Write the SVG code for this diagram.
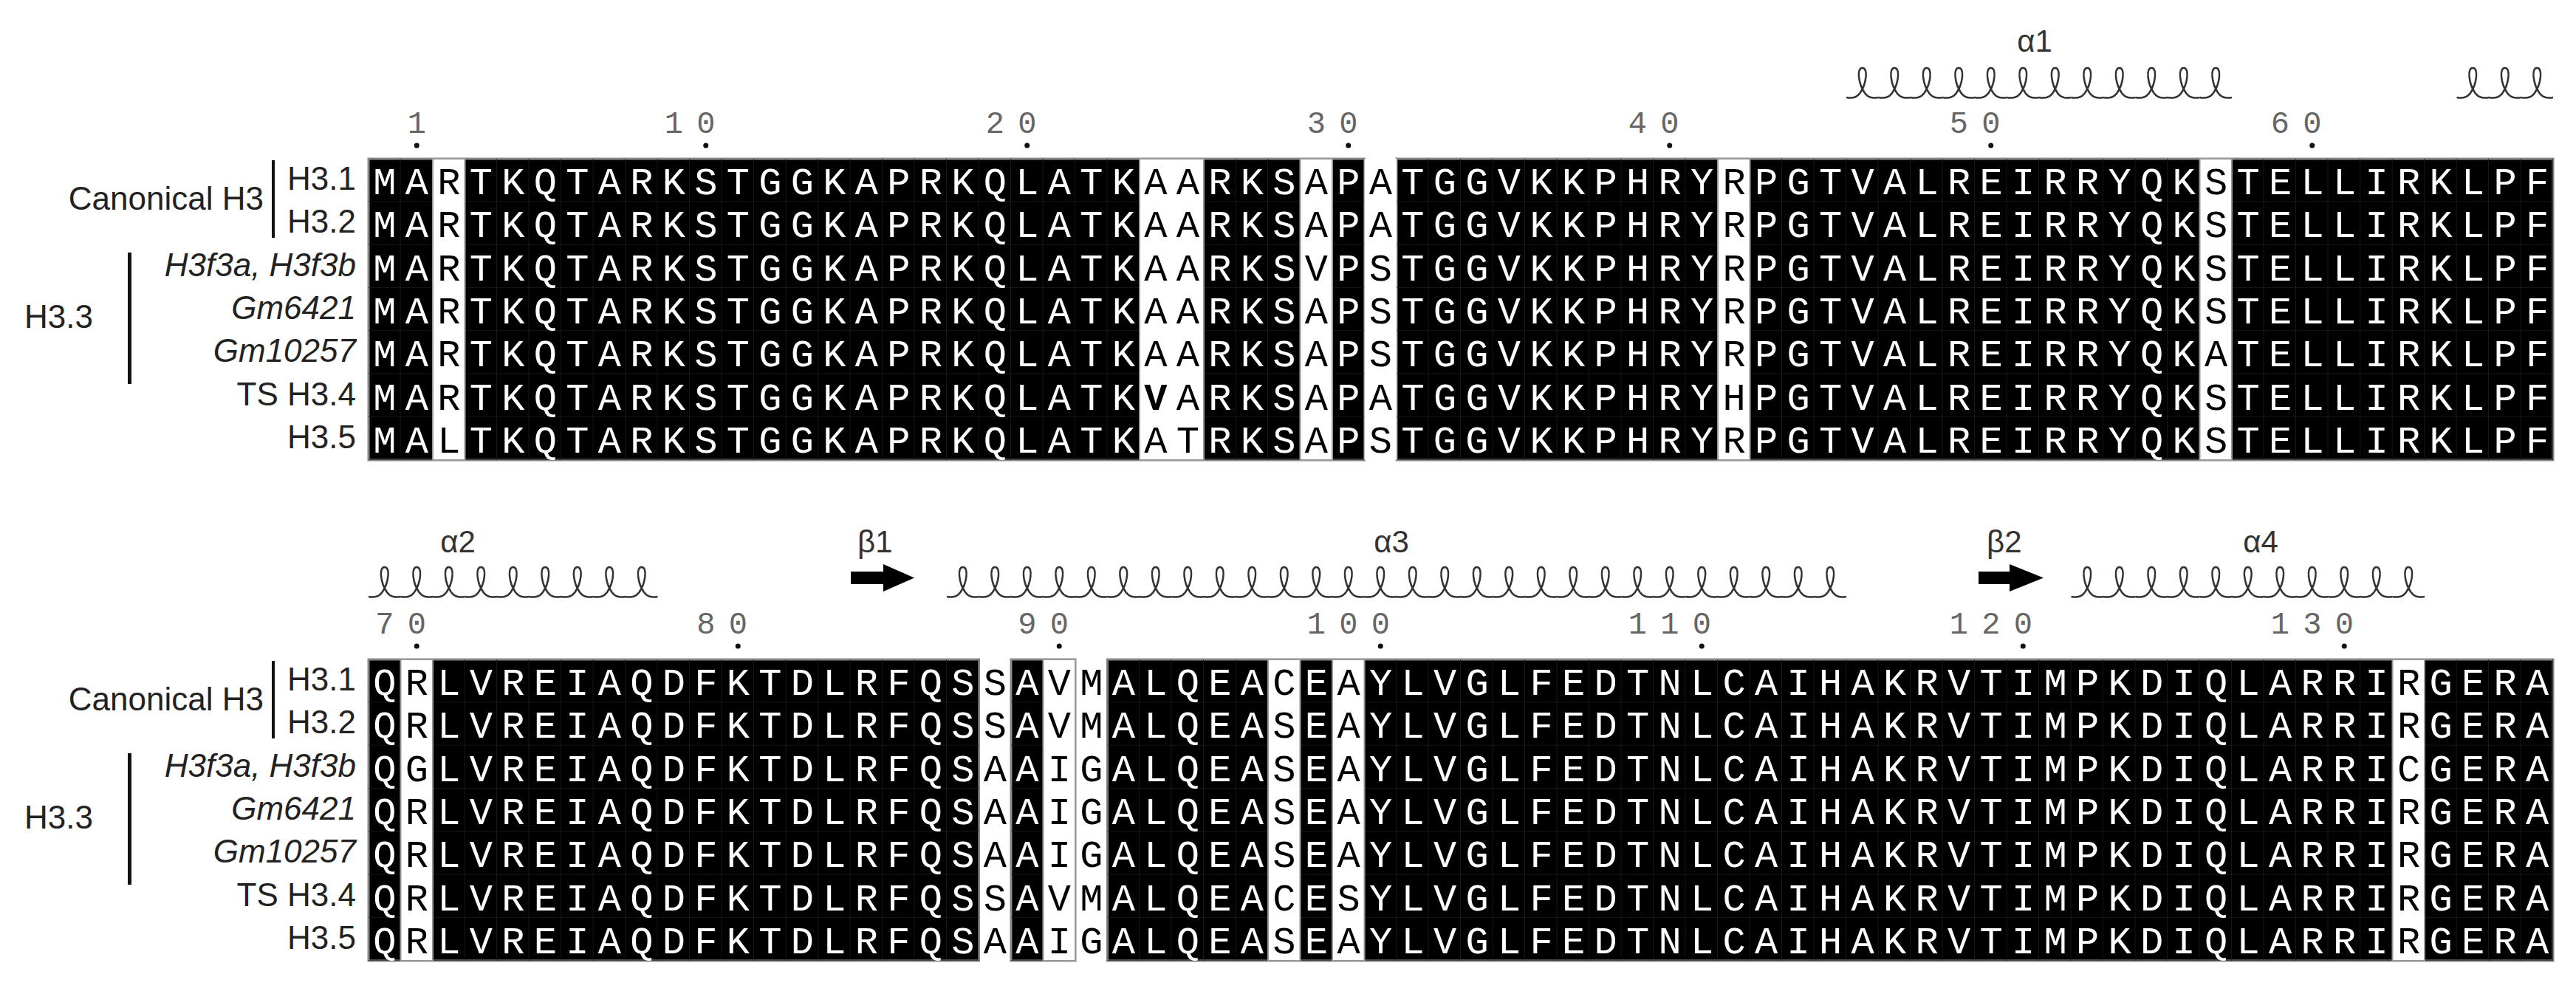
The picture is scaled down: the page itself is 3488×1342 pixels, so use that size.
<svg xmlns="http://www.w3.org/2000/svg" xmlns:xlink="http://www.w3.org/1999/xlink" width="3488" height="1342" viewBox="0 0 3488 1342">
<style>
.res{font-family:"Liberation Mono","Courier New",monospace;font-size:52px;fill:#fff;letter-spacing:12.3px}
.w{fill:#000}
.b{font-weight:bold}
.num{font-family:"Liberation Mono","Courier New",monospace;font-size:42px;fill:#666;letter-spacing:18.3px}
.lab{font-family:"Liberation Sans",Arial,sans-serif;font-size:44px;fill:#222}
.r{text-anchor:end}
.it{font-style:italic}
.ss{font-family:"Liberation Sans",Arial,sans-serif;font-size:42px;fill:#333}
.frame{fill:#000;stroke:#888;stroke-width:3}
.wc{fill:#fff;stroke:#999;stroke-width:2}
.coil{fill:none;stroke:#333;stroke-width:2.5}
.dot{fill:#111}
</style>
<defs>
<path id="coil" class="coil" d="M0,0 C9,1.5 14,0 18.5,-6 C27,-18 30,-40 21.75,-40 C13.5,-40 16.5,-18 25,-6 C29.5,0 34.5,1.5 43.5,0"/>
<pattern id="g1" patternUnits="userSpaceOnUse" x="499" y="215" width="43.5" height="58.3"><path d="M43.5 0V58.3M0 58.3H43.5" stroke="#1e1e1e" stroke-width="1.5" fill="none"/></pattern>
<pattern id="g2" patternUnits="userSpaceOnUse" x="499" y="893" width="43.5" height="58.3"><path d="M43.5 0V58.3M0 58.3H43.5" stroke="#1e1e1e" stroke-width="1.5" fill="none"/></pattern>
</defs>
<rect width="3488" height="1342" fill="#fff"/>

<g id="structure1">
<text class="ss" x="2755" y="70" text-anchor="middle">α1</text>
<use xlink:href="#coil" x="2500" y="132"/><use xlink:href="#coil" x="2543.5" y="132"/><use xlink:href="#coil" x="2587" y="132"/><use xlink:href="#coil" x="2630.5" y="132"/><use xlink:href="#coil" x="2674" y="132"/><use xlink:href="#coil" x="2717.5" y="132"/><use xlink:href="#coil" x="2761" y="132"/><use xlink:href="#coil" x="2804.5" y="132"/><use xlink:href="#coil" x="2848" y="132"/><use xlink:href="#coil" x="2891.5" y="132"/><use xlink:href="#coil" x="2935" y="132"/><use xlink:href="#coil" x="2978.5" y="132"/>
<use xlink:href="#coil" x="3326.5" y="132"/><use xlink:href="#coil" x="3370" y="132"/><use xlink:href="#coil" x="3413.5" y="132"/>
</g>
<g id="numbers1">
<text class="num" y="180"><tspan x="551.65">1</tspan><tspan x="899.65">10</tspan><tspan x="1334.65">20</tspan><tspan x="1769.65">30</tspan><tspan x="2204.65">40</tspan><tspan x="2639.65">50</tspan><tspan x="3074.65">60</tspan></text>
<circle class="dot" cx="564.25" cy="197" r="3.5"/><circle class="dot" cx="955.75" cy="197" r="3.5"/><circle class="dot" cx="1390.75" cy="197" r="3.5"/><circle class="dot" cx="1825.75" cy="197" r="3.5"/><circle class="dot" cx="2260.75" cy="197" r="3.5"/><circle class="dot" cx="2695.75" cy="197" r="3.5"/><circle class="dot" cx="3130.75" cy="197" r="3.5"/>
</g>

<g id="block1">
<rect class="frame" x="499" y="215" width="1348.5" height="408"/>
<rect class="frame" x="1891" y="215" width="1566" height="408"/>
<rect x="499" y="215" width="1348.5" height="408" fill="url(#g1)"/>
<rect x="1891" y="215" width="1566" height="408" fill="url(#g1)"/>
<rect class="wc" x="586" y="215" width="43.5" height="408"/>
<rect class="wc" x="1543" y="215" width="87" height="408"/>
<rect class="wc" x="1760.5" y="215" width="43.5" height="408"/>
<rect x="1847.5" y="215" width="43.5" height="408" fill="#fff"/>
<rect class="wc" x="2326" y="215" width="43.5" height="408"/>
<rect class="wc" x="2978.5" y="215" width="43.5" height="408"/>
<text class="res" x="505.15" y="263">MA<tspan class="w">R</tspan>TKQTARKSTGGKAPRKQLATK<tspan class="w">AA</tspan>RKS<tspan class="w">A</tspan>P<tspan class="w">A</tspan>TGGVKKPHRY<tspan class="w">R</tspan>PGTVALREIRRYQK<tspan class="w">S</tspan>TELLIRKLPF</text>
<text class="res" x="505.15" y="321.3">MA<tspan class="w">R</tspan>TKQTARKSTGGKAPRKQLATK<tspan class="w">AA</tspan>RKS<tspan class="w">A</tspan>P<tspan class="w">A</tspan>TGGVKKPHRY<tspan class="w">R</tspan>PGTVALREIRRYQK<tspan class="w">S</tspan>TELLIRKLPF</text>
<text class="res" x="505.15" y="379.6">MA<tspan class="w">R</tspan>TKQTARKSTGGKAPRKQLATK<tspan class="w">AA</tspan>RKS<tspan class="w">V</tspan>P<tspan class="w">S</tspan>TGGVKKPHRY<tspan class="w">R</tspan>PGTVALREIRRYQK<tspan class="w">S</tspan>TELLIRKLPF</text>
<text class="res" x="505.15" y="437.9">MA<tspan class="w">R</tspan>TKQTARKSTGGKAPRKQLATK<tspan class="w">AA</tspan>RKS<tspan class="w">A</tspan>P<tspan class="w">S</tspan>TGGVKKPHRY<tspan class="w">R</tspan>PGTVALREIRRYQK<tspan class="w">S</tspan>TELLIRKLPF</text>
<text class="res" x="505.15" y="496.2">MA<tspan class="w">R</tspan>TKQTARKSTGGKAPRKQLATK<tspan class="w">AA</tspan>RKS<tspan class="w">A</tspan>P<tspan class="w">S</tspan>TGGVKKPHRY<tspan class="w">R</tspan>PGTVALREIRRYQK<tspan class="w">A</tspan>TELLIRKLPF</text>
<text class="res" x="505.15" y="554.5">MA<tspan class="w">R</tspan>TKQTARKSTGGKAPRKQLATK<tspan class="w b">V</tspan><tspan class="w">A</tspan>RKS<tspan class="w">A</tspan>P<tspan class="w">A</tspan>TGGVKKPHRY<tspan class="w">H</tspan>PGTVALREIRRYQK<tspan class="w">S</tspan>TELLIRKLPF</text>
<text class="res" x="505.15" y="612.8">MA<tspan class="w">L</tspan>TKQTARKSTGGKAPRKQLATK<tspan class="w">AT</tspan>RKS<tspan class="w">A</tspan>P<tspan class="w">S</tspan>TGGVKKPHRY<tspan class="w">R</tspan>PGTVALREIRRYQK<tspan class="w">S</tspan>TELLIRKLPF</text>
</g>

<g id="labels1">
<text class="lab r" x="357" y="284">Canonical H3</text>
<rect x="368" y="217" width="4" height="105" fill="#111"/>
<text class="lab" x="33" y="444">H3.3</text>
<rect x="173" y="342" width="5" height="178" fill="#111"/>
<text class="lab r" x="482" y="257">H3.1</text>
<text class="lab r" x="482" y="315.3">H3.2</text>
<text class="lab r it" x="482" y="373.6">H3f3a, H3f3b</text>
<text class="lab r it" x="482" y="431.9">Gm6421</text>
<text class="lab r it" x="482" y="490.2">Gm10257</text>
<text class="lab r" x="482" y="548.5">TS H3.4</text>
<text class="lab r" x="482" y="606.8">H3.5</text>
</g>

<g id="structure2">
<text class="ss" x="620" y="748" text-anchor="middle">α2</text>
<use xlink:href="#coil" x="499" y="808"/><use xlink:href="#coil" x="542.5" y="808"/><use xlink:href="#coil" x="586" y="808"/><use xlink:href="#coil" x="629.5" y="808"/><use xlink:href="#coil" x="673" y="808"/><use xlink:href="#coil" x="716.5" y="808"/><use xlink:href="#coil" x="760" y="808"/><use xlink:href="#coil" x="803.5" y="808"/><use xlink:href="#coil" x="847" y="808"/>
<text class="ss" x="1161" y="748">β1</text>
<polygon points="1152,774 1196,774 1196,764 1238,782.5 1196,801 1196,791 1152,791" fill="#000"/>
<text class="ss" x="1884" y="748" text-anchor="middle">α3</text>
<use xlink:href="#coil" x="1282" y="808"/><use xlink:href="#coil" x="1325.5" y="808"/><use xlink:href="#coil" x="1369" y="808"/><use xlink:href="#coil" x="1412.5" y="808"/><use xlink:href="#coil" x="1456" y="808"/><use xlink:href="#coil" x="1499.5" y="808"/><use xlink:href="#coil" x="1543" y="808"/><use xlink:href="#coil" x="1586.5" y="808"/><use xlink:href="#coil" x="1630" y="808"/><use xlink:href="#coil" x="1673.5" y="808"/><use xlink:href="#coil" x="1717" y="808"/><use xlink:href="#coil" x="1760.5" y="808"/><use xlink:href="#coil" x="1804" y="808"/><use xlink:href="#coil" x="1847.5" y="808"/><use xlink:href="#coil" x="1891" y="808"/><use xlink:href="#coil" x="1934.5" y="808"/><use xlink:href="#coil" x="1978" y="808"/><use xlink:href="#coil" x="2021.5" y="808"/><use xlink:href="#coil" x="2065" y="808"/><use xlink:href="#coil" x="2108.5" y="808"/><use xlink:href="#coil" x="2152" y="808"/><use xlink:href="#coil" x="2195.5" y="808"/><use xlink:href="#coil" x="2239" y="808"/><use xlink:href="#coil" x="2282.5" y="808"/><use xlink:href="#coil" x="2326" y="808"/><use xlink:href="#coil" x="2369.5" y="808"/><use xlink:href="#coil" x="2413" y="808"/><use xlink:href="#coil" x="2456.5" y="808"/>
<text class="ss" x="2690" y="748">β2</text>
<polygon points="2679,774 2721,774 2721,764 2767,782.5 2721,801 2721,791 2679,791" fill="#000"/>
<text class="ss" x="3061" y="748" text-anchor="middle">α4</text>
<use xlink:href="#coil" x="2804.5" y="808"/><use xlink:href="#coil" x="2848" y="808"/><use xlink:href="#coil" x="2891.5" y="808"/><use xlink:href="#coil" x="2935" y="808"/><use xlink:href="#coil" x="2978.5" y="808"/><use xlink:href="#coil" x="3022" y="808"/><use xlink:href="#coil" x="3065.5" y="808"/><use xlink:href="#coil" x="3109" y="808"/><use xlink:href="#coil" x="3152.5" y="808"/><use xlink:href="#coil" x="3196" y="808"/><use xlink:href="#coil" x="3239.5" y="808"/>
</g>
<g id="numbers2">
<text class="num" y="858"><tspan x="508.15">70</tspan><tspan x="943.15">80</tspan><tspan x="1378.15">90</tspan><tspan x="1769.65">100</tspan><tspan x="2204.65">110</tspan><tspan x="2639.65">120</tspan><tspan x="3074.65">130</tspan></text>
<circle class="dot" cx="564.25" cy="875" r="3.5"/><circle class="dot" cx="999.25" cy="875" r="3.5"/><circle class="dot" cx="1434.25" cy="875" r="3.5"/><circle class="dot" cx="1869.25" cy="875" r="3.5"/><circle class="dot" cx="2304.25" cy="875" r="3.5"/><circle class="dot" cx="2739.25" cy="875" r="3.5"/><circle class="dot" cx="3174.25" cy="875" r="3.5"/>
</g>

<g id="block2">
<rect class="frame" x="499" y="893" width="826.5" height="408"/>
<rect class="frame" x="1369" y="893" width="87" height="408"/>
<rect class="frame" x="1499.5" y="893" width="1957.5" height="408"/>
<rect x="499" y="893" width="826.5" height="408" fill="url(#g2)"/>
<rect x="1369" y="893" width="87" height="408" fill="url(#g2)"/>
<rect x="1499.5" y="893" width="1957.5" height="408" fill="url(#g2)"/>
<rect class="wc" x="542.5" y="893" width="43.5" height="408"/>
<rect class="wc" x="1412.5" y="893" width="43.5" height="408"/>
<rect class="wc" x="1717" y="893" width="43.5" height="408"/>
<rect class="wc" x="1804" y="893" width="43.5" height="408"/>
<rect class="wc" x="3239.5" y="893" width="43.5" height="408"/>
<text class="res" x="505.15" y="941">Q<tspan class="w">R</tspan>LVREIAQDFKTDLRFQS<tspan class="w">S</tspan>A<tspan class="w">VM</tspan>ALQEA<tspan class="w">C</tspan>E<tspan class="w">A</tspan>YLVGLFEDTNLCAIHAKRVTIMPKDIQLARRI<tspan class="w">R</tspan>GERA</text>
<text class="res" x="505.15" y="999.3">Q<tspan class="w">R</tspan>LVREIAQDFKTDLRFQS<tspan class="w">S</tspan>A<tspan class="w">VM</tspan>ALQEA<tspan class="w">S</tspan>E<tspan class="w">A</tspan>YLVGLFEDTNLCAIHAKRVTIMPKDIQLARRI<tspan class="w">R</tspan>GERA</text>
<text class="res" x="505.15" y="1057.6">Q<tspan class="w">G</tspan>LVREIAQDFKTDLRFQS<tspan class="w">A</tspan>A<tspan class="w">IG</tspan>ALQEA<tspan class="w">S</tspan>E<tspan class="w">A</tspan>YLVGLFEDTNLCAIHAKRVTIMPKDIQLARRI<tspan class="w">C</tspan>GERA</text>
<text class="res" x="505.15" y="1115.9">Q<tspan class="w">R</tspan>LVREIAQDFKTDLRFQS<tspan class="w">A</tspan>A<tspan class="w">IG</tspan>ALQEA<tspan class="w">S</tspan>E<tspan class="w">A</tspan>YLVGLFEDTNLCAIHAKRVTIMPKDIQLARRI<tspan class="w">R</tspan>GERA</text>
<text class="res" x="505.15" y="1174.2">Q<tspan class="w">R</tspan>LVREIAQDFKTDLRFQS<tspan class="w">A</tspan>A<tspan class="w">IG</tspan>ALQEA<tspan class="w">S</tspan>E<tspan class="w">A</tspan>YLVGLFEDTNLCAIHAKRVTIMPKDIQLARRI<tspan class="w">R</tspan>GERA</text>
<text class="res" x="505.15" y="1232.5">Q<tspan class="w">R</tspan>LVREIAQDFKTDLRFQS<tspan class="w">S</tspan>A<tspan class="w">VM</tspan>ALQEA<tspan class="w">C</tspan>E<tspan class="w">S</tspan>YLVGLFEDTNLCAIHAKRVTIMPKDIQLARRI<tspan class="w">R</tspan>GERA</text>
<text class="res" x="505.15" y="1290.8">Q<tspan class="w">R</tspan>LVREIAQDFKTDLRFQS<tspan class="w">A</tspan>A<tspan class="w">IG</tspan>ALQEA<tspan class="w">S</tspan>E<tspan class="w">A</tspan>YLVGLFEDTNLCAIHAKRVTIMPKDIQLARRI<tspan class="w">R</tspan>GERA</text>
</g>

<g id="labels2">
<text class="lab r" x="357" y="962">Canonical H3</text>
<rect x="368" y="895" width="4" height="105" fill="#111"/>
<text class="lab" x="33" y="1122">H3.3</text>
<rect x="173" y="1020" width="5" height="178" fill="#111"/>
<text class="lab r" x="482" y="935">H3.1</text>
<text class="lab r" x="482" y="993.3">H3.2</text>
<text class="lab r it" x="482" y="1051.6">H3f3a, H3f3b</text>
<text class="lab r it" x="482" y="1109.9">Gm6421</text>
<text class="lab r it" x="482" y="1168.2">Gm10257</text>
<text class="lab r" x="482" y="1226.5">TS H3.4</text>
<text class="lab r" x="482" y="1284.8">H3.5</text>
</g>
</svg>
